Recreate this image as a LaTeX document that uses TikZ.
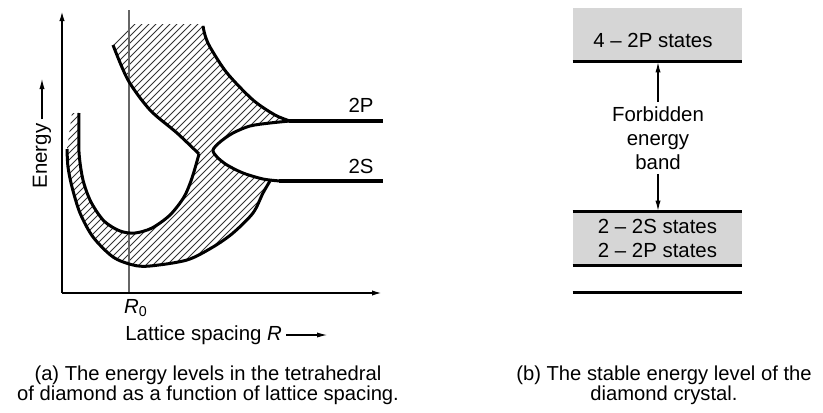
\documentclass[tikz,border=0pt]{standalone}
\usepackage{fontspec}
\setmainfont{Liberation Sans}
\usetikzlibrary{arrows.meta}
\definecolor{bandgray}{gray}{0.84}
\definecolor{hatchcol}{gray}{0.2}

\begin{document}
\begin{tikzpicture}[x=0.5pt,y=-0.5pt,font=\fontsize{10.2pt}{12pt}\selectfont,
  >={Latex[length=5.5pt,width=2.6pt]},
  axis/.style={line width=1pt},
  curve/.style={line width=1.5pt,line join=round},
  level/.style={line width=1.7pt},
  hatch/.style={line width=0.4pt,hatchcol},
  band/.style={fill=bandgray,minimum width=84.5pt,minimum height=26.5pt,inner sep=0pt,align=center},
  edge/.style={line width=1.7pt},
  io/.style={inner sep=2pt,align=center},
  captxt/.style={anchor=north,inner sep=0pt,align=center,font=\fontsize{10.1pt}{10pt}\selectfont}]
  \useasboundingbox (0,0) rectangle (823,412);

  % ---------- (a) energy levels against lattice spacing ----------
  % hatched bands first, curves on top
  \begin{scope}
    \clip (130,24) -- (113,45)
      -- plot[smooth] coordinates {(113,45) (128,80) (150,110) (177,133) (199,154)}
      -- (213,150)
      -- plot[smooth] coordinates {(213,150) (220,142) (233,133) (250,126) (270,123) (290,121)}
      -- plot[smooth] coordinates {(290,121) (275,115) (253,100) (227,73) (210,47) (205,35) (203,26)}
      -- (203,24) -- cycle;
    \foreach \i in {0,...,80} \draw[hatch] ({\i*7-260},300) -- ++(320,-320);
  \end{scope}
  \begin{scope}
    \clip plot[smooth] coordinates {(67,149) (68,167) (72,187) (80,213) (93,237) (113,257) (133,265)
                                    (150,266) (187,260) (213,247) (233,233) (253,213) (263,193) (270,181)}
      -- plot[smooth] coordinates {(280,181) (263,179) (243,173) (227,165) (217,157) (213,150)}
      -- (199,154)
      -- plot[smooth] coordinates {(199,154) (192,178) (184,197) (170,215) (152,228) (135,233) (120,231)
                                   (104,221) (91,202) (83,180) (79,152) (79,113)}
      -- (72,113) -- cycle;
    \foreach \i in {0,...,80} \draw[hatch] ({\i*7-260},300) -- ++(320,-320);
  \end{scope}

  % axes and R0 marker
  \coordinate (o) at (62,293);
  \coordinate (ytop) at (62,10);
  \coordinate (xend) at (383,293);
  \coordinate (rtop) at (129,10);
  \coordinate (rbot) at (129,293);
  \draw[black!60,line width=0.6pt] (rtop) -- (rbot);
  \draw[axis,->] (o) -- (ytop);
  \draw[axis,->] (o) -- (xend);

  % band edges
  \draw[curve] plot[smooth] coordinates {(113,45) (128,80) (150,110) (177,133) (199,154)};
  \draw[curve] plot[smooth] coordinates {(199,154) (192,178) (184,197) (170,215) (152,228) (135,233) (120,231)
                                         (104,221) (91,202) (83,180) (79,152) (79,113)};
  \draw[curve] plot[smooth] coordinates {(203,26) (205,35) (210,47) (227,73) (253,100) (275,115) (290,121)};
  \draw[curve] plot[smooth] coordinates {(290,121) (270,123) (250,126) (233,133) (220,142) (213,150)
                                         (217,157) (227,165) (243,173) (263,179) (280,181)};
  \draw[curve] plot[smooth] coordinates {(67,149) (68,167) (72,187) (80,213) (93,237) (113,257) (133,265)
                                         (150,266) (187,260) (213,247) (233,233) (253,213) (263,193) (270,181)};
  \draw[level] (289,121) -- (383,121);
  \draw[level] (279,181) -- (383,181);

  % labels
  \node[io] (l2p) at (361,105) {2P};
  \node[io] (l2s) at (361,166) {2S};
  \node[io,rotate=90] (elab) at (42,156) {Energy};
  \coordinate (etip) at (42,78);
  \draw[line width=0.8pt,->] (elab.east) -- (etip);
  \node[io] (r0) at (136,308) {\textit{R}\textsubscript{0}};
  \node[io,anchor=west] (lat) at (121,335) {Lattice spacing \textit{R}};
  \coordinate (latend) at (328,335);
  \draw[line width=0.8pt,->] (lat.east) -- (latend);
  \node[captxt] (capa) at (208,365)
       {(a) The energy levels in the tetrahedral\\of diamond as a function of lattice spacing.};

  % ---------- (b) stable levels of the crystal ----------
  \node[band] (b4) at (657.5,34.5) {};
  \node[io] (t4) at (653,40) {4 -- 2P states};
  \draw[edge] (b4.south west) -- (b4.south east);
  \node[io] (fb) at (658,138) {Forbidden\\energy\\band};
  \node[band] (b2) at (657.5,238.5) {2 -- 2S states\\2 -- 2P states};
  \draw[edge] (b2.north west) -- (b2.north east);
  \draw[edge] (b2.south west) -- (b2.south east);
  \draw[edge] ([yshift=-13.5pt]b2.south west) -- ([yshift=-13.5pt]b2.south east);
  \draw[line width=0.8pt,->] (fb.north) -- (fb.north |- b4.south);
  \draw[line width=0.8pt,->] (fb.south) -- (fb.south |- b2.north);
  \node[captxt] (capb) at (664,365)
       {(b) The stable energy level of the\\diamond crystal.};
\end{tikzpicture}
\end{document}
